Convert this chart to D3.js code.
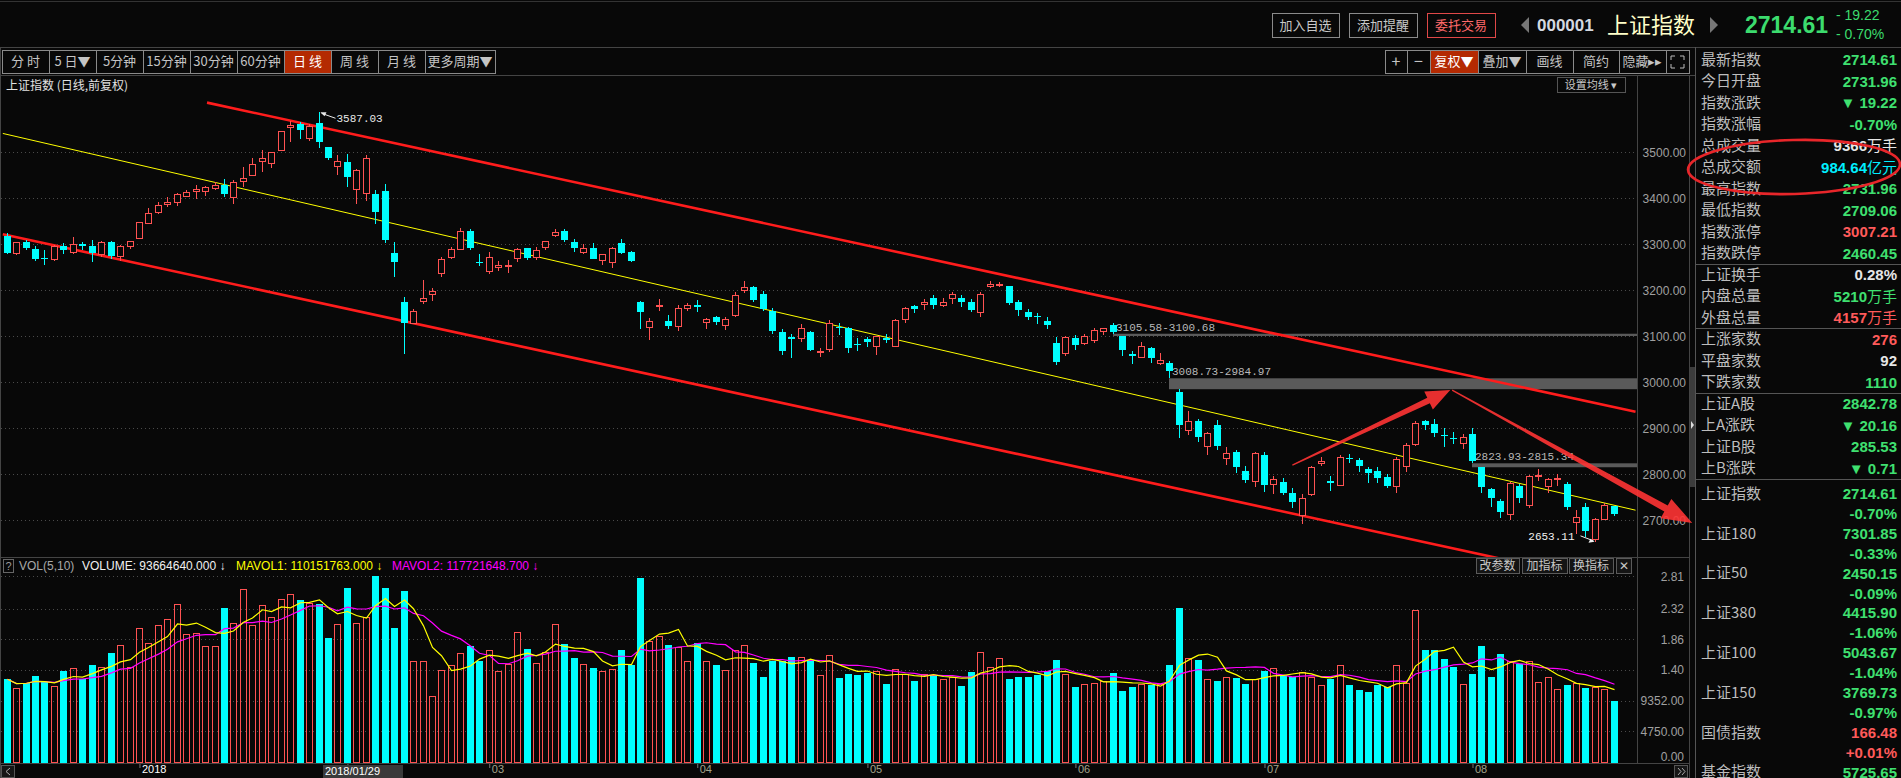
<!DOCTYPE html>
<html>
<head>
<meta charset="utf-8">
<title>上证指数 日线</title>
<script src="https://cdn.jsdelivr.net/npm/d3@7"></script>
<style>
  html, body { margin: 0; padding: 0; background: #080808; overflow: hidden; }
  svg { display: block; }
  .cjk { font-family: "Noto Sans CJK SC", sans-serif; }
  .num { font-family: "Liberation Sans", Arial, sans-serif; }
  .mono { font-family: "Liberation Mono", "DejaVu Sans Mono", monospace; }
</style>
</head>
<body>
<svg id="chart"></svg>
<script>
// ---------- data ----------
const dates = [
  "20171212","20171213","20171214","20171215","20171218","20171219","20171220","20171221","20171222","20171225","20171226","20171227","20171228","20171229",
  "20180102","20180103","20180104","20180105","20180108","20180109","20180110","20180111","20180112","20180115","20180116","20180117","20180118","20180119","20180122","20180123","20180124","20180125","20180126","20180129","20180130","20180131",
  "20180201","20180202","20180205","20180206","20180207","20180208","20180209","20180212","20180213","20180214","20180222","20180223","20180226","20180227","20180228",
  "20180301","20180302","20180305","20180306","20180307","20180308","20180309","20180312","20180313","20180314","20180315","20180316","20180319","20180320","20180321","20180322","20180323","20180326","20180327","20180328","20180329","20180330",
  "20180402","20180403","20180404","20180409","20180410","20180411","20180412","20180413","20180416","20180417","20180418","20180419","20180420","20180423","20180424","20180425","20180426","20180427",
  "20180502","20180503","20180504","20180507","20180508","20180509","20180510","20180511","20180514","20180515","20180516","20180517","20180518","20180521","20180522","20180523","20180524","20180525","20180528","20180529","20180530","20180531",
  "20180601","20180604","20180605","20180606","20180607","20180608","20180611","20180612","20180613","20180614","20180615","20180619","20180620","20180621","20180622","20180625","20180626","20180627","20180628","20180629",
  "20180702","20180703","20180704","20180705","20180706","20180709","20180710","20180711","20180712","20180713","20180716","20180717","20180718","20180719","20180720","20180723","20180724","20180725","20180726","20180727","20180730","20180731",
  "20180801","20180802","20180803","20180806","20180807","20180808","20180809","20180810","20180813","20180814","20180815","20180816","20180817","20180820","20180821","20180822"
];
const opens = [
  3319,3281,3304,3290,3271,3268,3296,3283,3300,3297,3279,3305,3275,3297,
  3314,3347,3371,3387,3391,3406,3415,3415,3423,3428,3403,3437,3450,3481,3477,3505,3555,3561,3532,3563,3511,3470,
  3478,3420,3411,3410,3416,3282,3175,3130,3177,3191,3237,3273,3289,3328,3262,
  3242,3250,3253,3270,3292,3272,3295,3320,3328,3305,3283,3291,3265,3262,3303,3283,3175,3120,3166,3133,3122,3162,
  3169,3131,3143,3125,3147,3200,3208,3193,3155,3109,3098,3096,3109,3066,3072,3120,3118,3083,
  3094,3080,3097,3080,3137,3165,3170,3183,3168,3183,3183,3174,3153,3209,3211,3209,3175,3153,3144,3134,3086,3064,
  3096,3086,3092,3111,3124,3100,3062,3056,3075,3042,3041,2980,2896,2915,2862,2908,2836,2848,2808,2786,
  2842,2779,2784,2760,2712,2758,2824,2786,2777,2836,2831,2811,2807,2795,2775,2818,2866,2915,2910,2886,2878,2869,
  2888,2815.34,2767,2743,2713,2775,2733,2797,2775,2790,2780,2697,2728,2660,2702,2731.96
];
const highs = [
  3324,3306,3309,3296,3287,3299,3302,3315,3306,3309,3307,3307,3298,3308,
  3349,3379,3392,3402,3412,3417,3430,3426,3435,3442,3439,3468,3488,3505,3501,3547,3569,3566,3561,3587.03,3512,3495,
  3496,3463,3494,3418,3432,3306,3186,3160,3223,3204,3273,3294,3336,3334,3278,
  3284,3264,3266,3292,3293,3294,3308,3333,3333,3312,3301,3302,3280,3294,3311,3285,3176,3140,3182,3147,3169,3173,
  3178,3140,3145,3142,3196,3220,3210,3199,3161,3116,3105,3127,3112,3075,3135,3128,3121,3097,
  3098,3101,3105,3138,3163,3167,3182,3190,3183,3196,3189,3182,3196,3220,3219,3210,3180,3160,3150,3143,3098,3100,
  3102,3105,3119,3118,3128,3100.68,3068,3088,3077,3063,3046,2984.97,2937,2920,2893,2918,2860,2852,2817,2848,
  2848,2796,2793,2770,2757,2817,2837,2796,2842,2845,2835,2815,2815,2800,2838,2868,2915,2918,2921,2900,2893,2888,
  2900,2815.34,2770,2747,2784,2779,2799,2812,2793,2800,2783,2722,2738,2705,2738,2731.96
];
const lows = [
  3278,3276,3287,3264,3255,3264,3280,3279,3287,3262,3273,3268,3264,3290,
  3314,3345,3365,3381,3384,3403,3398,3405,3418,3402,3388,3424,3449,3458,3466,3502,3522,3529,3524,3510,3483,3450,
  3424,3388,3395,3345,3303,3230,3062,3126,3170,3177,3230,3268,3287,3288,3252,
  3235,3241,3238,3262,3266,3266,3288,3315,3305,3283,3278,3267,3255,3249,3280,3262,3116,3091,3154,3115,3112,3154,
  3152,3116,3125,3113,3141,3195,3175,3156,3104,3059,3053,3088,3067,3056,3065,3103,3064,3068,
  3077,3060,3085,3077,3130,3151,3158,3160,3163,3170,3163,3152,3142,3205,3207,3168,3144,3136,3126,3116,3038,3057,
  3070,3082,3086,3102,3105.58,3058,3040,3052,3043,3038,3008.73,2878,2885,2870,2842,2852,2820,2803,2782,2772,
  2762,2758,2756,2727,2691,2753,2818,2764,2776,2824,2806,2781,2782,2770,2760,2804,2862,2896,2880,2860,2865,2856,
  2823.93,2760,2730,2705,2700,2737,2727,2785,2760,2775,2722,2671,2664,2653.11,2700,2709.06
];
const closes = [
  3281,3304,3293,3267,3268,3297,3288,3301,3297,3281,3306,3275,3296,3307,
  3349,3369,3386,3391,3409,3413,3421,3425,3428,3410,3436,3444,3474,3487,3501,3546,3559,3548,3558,3523,3488,3481,
  3447,3462,3487,3370,3309,3262,3129,3154,3184,3199,3268,3289,3329,3292,3259,
  3273,3254,3256,3289,3271,3288,3307,3326,3310,3291,3291,3269,3279,3291,3281,3263,3153,3134,3167,3123,3161,3169,
  3163,3137,3131,3138,3190,3208,3180,3159,3111,3067,3095,3117,3071,3069,3128,3118,3075,3082,
  3087,3101,3091,3136,3161,3159,3174,3168,3174,3192,3174,3157,3193,3214,3214,3172,3157,3143,3142,3125,3045,3098,
  3081,3101,3114,3118,3110,3070,3058,3080,3052,3049,3025,2908,2916,2880,2890,2862,2847,2815,2787,2847,
  2776,2790,2760,2740,2748,2815,2828,2782,2837,2833,2818,2802,2791,2775,2833,2864,2911,2907,2889,2883,2876,2881,
  2830,2773,2748,2719,2782,2748,2797,2799,2790,2792,2730,2708,2677,2703,2733.87,2714.61
];
// volume in millions of lots (手)
const volumes = [
  126,113,121,131,122,116,139,143,127,148,144,165,177,144,
  203,180,208,216,239,194,196,176,176,234,211,262,208,238,220,247,255,246,241,239,188,209,
  263,211,219,282,263,203,259,154,153,101,140,147,166,176,153,
  170,139,149,197,171,151,167,209,179,158,149,143,139,142,170,147,278,184,191,177,175,154,
  180,154,148,140,170,177,150,129,154,154,159,160,154,133,163,128,134,132,
  135,139,119,141,134,124,134,132,127,129,116,137,167,145,158,126,130,130,132,138,155,134,
  114,119,120,124,136,109,114,119,117,119,147,233,158,155,127,123,130,128,119,127,
  139,143,132,129,137,130,118,127,148,118,110,107,117,114,147,120,231,170,170,157,144,119,
  134,176,130,164,153,149,153,122,129,111,117,120,113,114,112,93.66464
];
const priceTicks = [2700, 2800, 2900, 3000, 3100, 3200, 3300, 3400, 3500];
const volTicks = [0, 47.5, 93.52, 140, 186, 232, 281];
const volTickLabels = ["0.00", "4750.00", "9352.00", "1.40", "1.86", "2.32", "2.81"];
const monthTickDates = ["20180102","20180201","20180301","20180402","20180502","20180601","20180702","20180801"];
const monthTickLabels = ["2018", "02", "03", "04", "05", "06", "07", "08"];
const gapStartDates = ["20180607", "20180615", "20180801"];
// hand drawn lines, as [day index, price]
const channelUpper = [[21.2, 3608], [172.3, 2936]];
const channelLower = [[-0.4, 3322], [172.3, 2553]];
const trendMid = [[-0.4, 3541], [172.3, 2722]];
const arrowUp = [[136.0, 2820], [152.7, 2983]];
const arrowDown = [[152.9, 2983], [178.3, 2694]];

const infoLabels = ["最新指数","今日开盘","指数涨跌","指数涨幅","总成交量","总成交额","最高指数","最低指数","指数涨停","指数跌停",
  "上证换手","内盘总量","外盘总量","上涨家数","平盘家数","下跌家数","上证A股","上A涨跌","上证B股","上B涨跌"];
const infoValues = ["2714.61","2731.96","▼ 19.22","-0.70%","9366万手","984.64亿元","2731.96","2709.06","3007.21","2460.45",
  "0.28%","5210万手","4157万手","276","92","1110","2842.78","▼ 20.16","285.53","▼ 0.71"];
const infoTones = ["g","g","g","g","w","c","g","g","r","g","w","g","r","r","w","g","g","g","g","g"];
const indexNames = ["上证指数","上证180","上证50","上证380","上证100","上证150","国债指数","基金指数"];
const indexValues = ["2714.61","7301.85","2450.15","4415.90","5043.67","3769.73","166.48","5725.65"];
const indexChanges = ["-0.70%","-0.33%","-0.09%","-1.06%","-1.04%","-0.97%","+0.01%",""];
const indexTones = ["g","g","g","g","g","g","r","g"];
const periodTabs = ["分 时","5 日▼","5分钟","15分钟","30分钟","60分钟","日 线","周 线","月 线","更多周期▼"];
const toolTabs = ["+","−","复权▼","叠加▼","画线","简约","隐藏▸▸",""];

// ---------- drawing ----------
const W = 1901, H = 778;
const BG = "#080808", RED = "#ff5252", CYAN = "#00ffff", GRID = "#4a4a4a", LINE = "#3e3e3e";
const TONE = { g: "#3fe070", r: "#ff5a5a", w: "#e6e6e6", c: "#00f0ff" };

const svg = d3.select("#chart").attr("width", W).attr("height", H);
svg.append("rect").attr("width", W).attr("height", H).attr("fill", BG);

const n = dates.length;
const idx = d3.range(n);
const x = d3.scaleLinear().domain([0, n - 1]).range([6.6, 1613.8]);
const y = d3.scaleLinear().domain([2700, 3500]).range([520.3, 152.3]);
const yv = d3.scaleLinear().domain([0, 281]).range([763, 576.3]);
const px = i => Math.round(x(i));
const isUp = i => closes[i] >= opens[i];

const defs = svg.append("defs");
defs.append("clipPath").attr("id", "priceClip").append("rect").attr("x", 1).attr("y", 76).attr("width", 1636).attr("height", 481);
defs.append("clipPath").attr("id", "volClip").append("rect").attr("x", 1).attr("y", 574).attr("width", 1636).attr("height", 190);

function hline(x1, x2, yy, color) {
  svg.append("line").attr("x1", x1).attr("x2", x2).attr("y1", yy).attr("y2", yy).attr("stroke", color || LINE);
}
function vline(xx, y1, y2, color) {
  svg.append("line").attr("x1", xx).attr("x2", xx).attr("y1", y1).attr("y2", y2).attr("stroke", color || LINE);
}

// frame
hline(0, W, 1.5, "#333");
hline(0, W, 47.5, "#444");
hline(0, 1695, 75.5, "#444");
hline(0, 1689, 557.5, "#444");
hline(0, 1689, 763.5, "#444");
vline(0.5, 47, 778, "#444");
vline(1637.5, 76, 764, "#444");
vline(1689.5, 76, 778, "#444");
vline(1695.5, 47, 778, "#555");

// ---- top bar ----
function button(x0, x1, y0, y1, label, opt) {
  opt = opt || {};
  svg.append("rect").attr("x", x0 + 0.5).attr("y", y0 + 0.5).attr("width", x1 - x0).attr("height", y1 - y0)
    .attr("fill", opt.fill || "none").attr("stroke", opt.stroke || "#8a8a8a");
  svg.append("text").attr("class", "cjk").attr("x", (x0 + x1) / 2).attr("y", (y0 + y1) / 2).attr("dy", "0.36em")
    .attr("text-anchor", "middle").attr("font-size", opt.size || 13).attr("fill", opt.color || "#c8c8c8").text(label);
}
button(1272, 1339, 13, 37, "加入自选");
button(1349, 1417, 13, 37, "添加提醒");
button(1427, 1495, 13, 37, "委托交易", { stroke: "#e04848", color: "#ff6a6a" });
svg.append("path").attr("d", "M1529,17 L1521,25 L1529,33 Z").attr("fill", "#777");
svg.append("text").attr("class", "num").attr("x", 1537).attr("y", 25).attr("dy", "0.36em").attr("font-size", 17)
  .attr("font-weight", "bold").attr("fill", "#d4d8e0").text("000001");
svg.append("text").attr("class", "cjk").attr("x", 1607).attr("y", 25).attr("dy", "0.36em").attr("font-size", 22)
  .attr("fill", "#ffffc8").text("上证指数");
svg.append("path").attr("d", "M1710,17 L1718,25 L1710,33 Z").attr("fill", "#777");
svg.append("text").attr("class", "num").attr("x", 1745).attr("y", 25).attr("dy", "0.36em").attr("font-size", 23)
  .attr("font-weight", "bold").attr("fill", "#3cdc6e").text("2714.61");
svg.append("text").attr("class", "num").attr("x", 1836).attr("y", 15).attr("dy", "0.36em").attr("font-size", 14)
  .attr("fill", "#3cdc6e").text("- 19.22");
svg.append("text").attr("class", "num").attr("x", 1836).attr("y", 34).attr("dy", "0.36em").attr("font-size", 14)
  .attr("fill", "#3cdc6e").text("- 0.70%");

// ---- period tabs ----
const tabEdges = [2, 49, 96, 143, 190, 237, 284, 331, 378, 425, 495];
periodTabs.forEach((t, k) => {
  const active = k === 6;
  button(tabEdges[k], tabEdges[k + 1], 50, 73, t, { fill: active ? "#b42a02" : "none", stroke: "#8a8a8a",
    color: active ? "#ffffff" : "#c4c4c4", size: 13 });
});
const toolEdges = [1385, 1407, 1430, 1478, 1526, 1573, 1619, 1666, 1689];
toolTabs.forEach((t, k) => {
  const active = k === 2;
  button(toolEdges[k], toolEdges[k + 1], 50, 73, t, { fill: active ? "#b42a02" : "none", stroke: "#8a8a8a",
    color: active ? "#ffffff" : "#c4c4c4", size: k < 2 ? 16 : 13 });
});
// full screen glyph
svg.append("path").attr("fill", "none").attr("stroke", "#bbb")
  .attr("d", "M1671,60 v-4 h4 M1680,56 h4 v4 M1684,64 v4 h-4 M1675,68 h-4 v-4");

// ---- chart header ----
svg.append("text").attr("class", "cjk").attr("x", 6).attr("y", 86).attr("dy", "0.36em").attr("font-size", 12)
  .attr("fill", "#e2e2e2").text("上证指数 (日线,前复权)");
svg.append("rect").attr("x", 1557.5).attr("y", 77.5).attr("width", 68).attr("height", 15).attr("fill", "none").attr("stroke", "#555");
svg.append("text").attr("class", "cjk").attr("x", 1591).attr("y", 85).attr("dy", "0.36em").attr("text-anchor", "middle")
  .attr("font-size", 11).attr("fill", "#c8c8c8").text("设置均线 ▾");

// ---- price grid & axis ----
svg.append("g").selectAll("line").data(priceTicks).join("line")
  .attr("x1", 1).attr("x2", 1637).attr("y1", d => Math.round(y(d)) + 0.5).attr("y2", d => Math.round(y(d)) + 0.5)
  .attr("stroke", GRID).attr("stroke-dasharray", "1,3");
svg.append("g").attr("transform", "translate(1686,0)")
  .call(d3.axisLeft(y).tickValues(priceTicks).tickFormat(d3.format(".2f")).tickSize(0).tickPadding(0))
  .call(g => g.select(".domain").remove())
  .selectAll("text").attr("fill", "#a0a0a0").attr("class", "num").style("font-size", "12px");

// ---- gap bands ----
const gapLayer = svg.append("g").attr("clip-path", "url(#priceClip)");
gapStartDates.forEach(s => {
  const i = dates.indexOf(s);
  const top = lows[i], bot = highs[i + 1];
  const y0 = y(top), y1 = y(bot);
  gapLayer.append("rect").attr("x", px(i)).attr("y", y0).attr("width", 1637 - px(i)).attr("height", Math.max(2, y1 - y0))
    .attr("fill", "#5a5a5a");
  gapLayer.append("text").attr("class", "mono").attr("x", px(i) + 3).attr("y", y0 - 3).attr("font-size", 11)
    .attr("fill", "#b8b8b8").text(top.toFixed(2) + "-" + bot.toFixed(2));
});

// ---- channel lines ----
const lineGen = d3.line().x(d => x(d[0])).y(d => y(d[1]));
const lines = svg.append("g").attr("clip-path", "url(#priceClip)");
lines.append("path").attr("d", lineGen(trendMid)).attr("fill", "none").attr("stroke", "#ffff00").attr("stroke-width", 1);
lines.append("path").attr("d", lineGen(channelUpper)).attr("fill", "none").attr("stroke", "#ff1c1c").attr("stroke-width", 2.6);
lines.append("path").attr("d", lineGen(channelLower)).attr("fill", "none").attr("stroke", "#ff1c1c").attr("stroke-width", 2.6);

// ---- candles ----
const candles = svg.append("g").attr("clip-path", "url(#priceClip)").attr("shape-rendering", "crispEdges");
candles.selectAll("line").data(idx).join("line")
  .attr("x1", i => px(i) + 0.5).attr("x2", i => px(i) + 0.5)
  .attr("y1", i => Math.round(y(highs[i]))).attr("y2", i => Math.round(y(lows[i])))
  .attr("stroke", i => isUp(i) ? RED : CYAN);
candles.selectAll("rect").data(idx).join("rect")
  .attr("x", i => isUp(i) ? px(i) - 3 + 0.5 : px(i) - 3)
  .attr("y", i => Math.round(y(Math.max(opens[i], closes[i]))) + (isUp(i) ? 0.5 : 0))
  .attr("width", i => isUp(i) ? 6 : 7)
  .attr("height", i => Math.max(isUp(i) ? 0 : 1, Math.round(y(Math.min(opens[i], closes[i]))) - Math.round(y(Math.max(opens[i], closes[i])))))
  .attr("fill", i => isUp(i) ? BG : CYAN)
  .attr("stroke", i => isUp(i) ? RED : "none");

// ---- extreme labels ----
const iHi = d3.maxIndex(highs), iLo = d3.minIndex(lows);
const hx = px(iHi) + 0.5, hy = y(highs[iHi]);
svg.append("path").attr("d", `M${hx + 16},${hy + 6} L${hx + 2},${hy + 1}`).attr("stroke", "#e8e8e8").attr("fill", "none");
svg.append("path").attr("d", `M${hx + 1},${hy} l6,0 l-2,4 Z`).attr("fill", "#e8e8e8");
svg.append("text").attr("class", "mono").attr("x", hx + 17).attr("y", hy + 10).attr("font-size", 11)
  .attr("fill", "#e8e8e8").text(highs[iHi].toFixed(2));
const lx = px(iLo) + 0.5, ly = y(lows[iLo]);
svg.append("text").attr("class", "mono").attr("x", lx - 21).attr("y", ly - 2).attr("text-anchor", "end").attr("font-size", 11)
  .attr("fill", "#f0f0f0").text(lows[iLo].toFixed(2));
svg.append("path").attr("d", `M${lx - 15},${ly - 6} L${lx - 2},${ly - 1}`).attr("stroke", "#f0f0f0").attr("fill", "none");
svg.append("path").attr("d", `M${lx - 1},${ly} l-6,1 l2,-4 Z`).attr("fill", "#f0f0f0");

// ---- hand drawn arrows ----
function arrow(seg, w0, w1, headLen, headHalf) {
  const p0 = [x(seg[0][0]), y(seg[0][1])], p1 = [x(seg[1][0]), y(seg[1][1])];
  const dx = p1[0] - p0[0], dy = p1[1] - p0[1], len = Math.hypot(dx, dy);
  const u = [dx / len, dy / len], nn = [-u[1], u[0]];
  const b = [p1[0] - u[0] * headLen, p1[1] - u[1] * headLen];
  const pt = (p, s) => [p[0] + nn[0] * s, p[1] + nn[1] * s];
  const pts = [pt(p0, w0 / 2), pt(b, w1 / 2), pt(b, headHalf), p1, pt(b, -headHalf), pt(b, -w1 / 2), pt(p0, -w0 / 2)];
  svg.append("polygon").attr("points", pts.map(p => p.join(",")).join(" ")).attr("fill", "#ff3434").attr("opacity", 0.9);
}
arrow(arrowUp, 1.2, 6, 24, 10);
arrow(arrowDown, 1.2, 7, 30, 11);

// ---- volume panel ----
svg.append("g").selectAll("line").data(volTicks.slice(1)).join("line")
  .attr("x1", 1).attr("x2", 1637).attr("y1", d => Math.round(yv(d)) + 0.5).attr("y2", d => Math.round(yv(d)) + 0.5)
  .attr("stroke", GRID).attr("stroke-dasharray", "1,3");
svg.append("g").attr("transform", "translate(1684,0)")
  .call(d3.axisLeft(yv).tickValues(volTicks).tickFormat((d, k) => volTickLabels[k]).tickSize(0).tickPadding(0))
  .call(g => g.select(".domain").remove())
  .selectAll("text").attr("fill", "#a0a0a0").attr("class", "num").style("font-size", "12px")
  .attr("y", d => d === 0 ? -6 : 0);

const vols = svg.append("g").attr("clip-path", "url(#volClip)").attr("shape-rendering", "crispEdges");
vols.selectAll("rect").data(idx).join("rect")
  .attr("x", i => isUp(i) ? px(i) - 3 + 0.5 : px(i) - 3)
  .attr("y", i => Math.round(yv(volumes[i])) + (isUp(i) ? 0.5 : 0))
  .attr("width", i => isUp(i) ? 6 : 7)
  .attr("height", i => 763 - Math.round(yv(volumes[i])) - (isUp(i) ? 1 : 0))
  .attr("fill", i => isUp(i) ? "none" : CYAN)
  .attr("stroke", i => isUp(i) ? RED : "none");

const movingAvg = k => idx.map(i => d3.mean(volumes.slice(Math.max(0, i - k + 1), i + 1)));
const ma5 = movingAvg(5), ma10 = movingAvg(10);
const maLine = arr => d3.line().x(i => px(i) + 0.5).y(i => yv(arr[i]))(idx);
const maLayer = svg.append("g").attr("clip-path", "url(#volClip)");
maLayer.append("path").attr("d", maLine(ma10)).attr("fill", "none").attr("stroke", "#ff00ff").attr("stroke-width", 1.2);
maLayer.append("path").attr("d", maLine(ma5)).attr("fill", "none").attr("stroke", "#ffff00").attr("stroke-width", 1.2);

// volume header
svg.append("rect").attr("x", 3.5).attr("y", 559.5).attr("width", 10).attr("height", 13).attr("fill", "none").attr("stroke", "#666");
svg.append("text").attr("class", "num").attr("x", 8.5).attr("y", 566).attr("dy", "0.36em").attr("text-anchor", "middle")
  .attr("font-size", 11).attr("fill", "#999").text("?");
const vh = svg.append("text").attr("class", "num").attr("x", 19).attr("y", 566).attr("dy", "0.36em").attr("font-size", 12);
vh.append("tspan").attr("fill", "#a8a8a8").text("VOL(5,10)");
vh.append("tspan").attr("x", 82).attr("fill", "#f0f0f0").text("VOLUME: " + (volumes[n - 1] * 1e6).toFixed(3) + " ↓");
vh.append("tspan").attr("x", 236).attr("fill", "#ffff00").text("MAVOL1: 110151763.000 ↓");
vh.append("tspan").attr("x", 392).attr("fill", "#ff00ff").text("MAVOL2: 117721648.700 ↓");
[[1476, 1519, "改参数"], [1522, 1567, "加指标"], [1569, 1613, "换指标"], [1616, 1631, "✕"]].forEach(b =>
  button(b[0], b[1], 558, 573, b[2], { fill: "#141414", stroke: "#5a5a5a", color: "#c8c8c8", size: 12 }));

// ---- x axis ----
const iSel = dates.indexOf("20180129");
const boxL = px(iSel) + 4, boxR = boxL + 80;
const tickIdx = monthTickDates.map(d => dates.indexOf(d));
const xa = svg.append("g").attr("transform", "translate(0.5,764)")
  .call(d3.axisBottom(x).tickValues(tickIdx).tickFormat((d, k) => monthTickLabels[k]).tickSize(4).tickPadding(0));
xa.select(".domain").remove();
xa.selectAll(".tick line").attr("stroke", "#777");
xa.selectAll(".tick text").attr("class", "num").attr("text-anchor", "start").attr("x", 2).attr("y", 1).attr("dy", "0.72em")
  .style("font-size", "11px").attr("fill", (d, k) => k === 0 ? "#ffffff" : "#a4a48c")
  // the crosshair date box hides the label under it
  .style("display", d => (x(d) > boxL - 20 && x(d) < boxR) ? "none" : null);
svg.append("rect").attr("x", boxL).attr("y", 765).attr("width", 80).attr("height", 13).attr("fill", "#3a3a3a");
svg.append("text").attr("class", "num").attr("x", boxL + 2).attr("y", 771).attr("dy", "0.36em").attr("font-size", 11)
  .attr("fill", "#ffffff").text(dates[iSel].replace(/(\d{4})(\d\d)(\d\d)/, "$1/$2/$3"));
svg.append("rect").attr("x", 1.5).attr("y", 765.5).attr("width", 13).attr("height", 12).attr("fill", "#161616").attr("stroke", "#555");
svg.append("path").attr("d", "M10,768 L6,771.5 L10,775").attr("fill", "none").attr("stroke", "#aaa");
svg.append("rect").attr("x", 1674.5).attr("y", 765.5).attr("width", 13).attr("height", 12).attr("fill", "#161616").attr("stroke", "#555");
svg.append("path").attr("d", "M1678,768 L1681,771.5 L1678,775 M1682,768 L1685,771.5 L1682,775").attr("fill", "none").attr("stroke", "#aaa");

// collapse handle
svg.append("rect").attr("x", 1690).attr("y", 367).attr("width", 5).attr("height", 120).attr("fill", "#3c3c3c");
svg.append("path").attr("d", "M1691,421 l3,4 l-3,4 Z").attr("fill", "#ddd");

// ---- right quote panel ----
function valueText(xr, yy, str, color) {
  const m = str.match(/^([^\u4e00-\u9fff]*)(.*)$/);
  const t = svg.append("text").attr("x", xr).attr("y", yy).attr("dy", "0.36em").attr("text-anchor", "end").attr("fill", color);
  t.append("tspan").attr("class", "num").attr("font-size", 15).attr("font-weight", "bold").text(m[1]);
  if (m[2]) t.append("tspan").attr("class", "cjk").attr("font-size", 15).text(m[2]);
}
infoLabels.forEach((lab, k) => {
  const yy = 59.3 + k * 21.5;
  svg.append("text").attr("class", "cjk").attr("x", 1701).attr("y", yy).attr("dy", "0.36em").attr("font-size", 15)
    .attr("fill", "#bdbdbd").text(lab);
  valueText(1897, yy, infoValues[k], TONE[infoTones[k]]);
});
[9, 12, 15, 19].forEach(k => hline(1696, W, Math.round(59.3 + (k + 0.5) * 21.5) + 0.5, "#555"));
indexNames.forEach((name, k) => {
  const yy = 493.3 + k * 2 * 19.9;
  svg.append("text").attr("class", "cjk").attr("x", 1701).attr("y", yy).attr("dy", "0.36em").attr("font-size", 15)
    .attr("fill", "#bdbdbd").text(name);
  valueText(1897, yy, indexValues[k], TONE[indexTones[k]]);
  if (indexChanges[k]) valueText(1897, yy + 19.9, indexChanges[k], TONE[indexTones[k]]);
});
// hand drawn ellipse round 总成交额
svg.append("ellipse").attr("cx", 1794).attr("cy", 167).attr("rx", 106).attr("ry", 27)
  .attr("transform", "rotate(-1.5,1794,167)").attr("fill", "none").attr("stroke", "#e8262a").attr("stroke-width", 2.6);
</script>
</body>
</html>
